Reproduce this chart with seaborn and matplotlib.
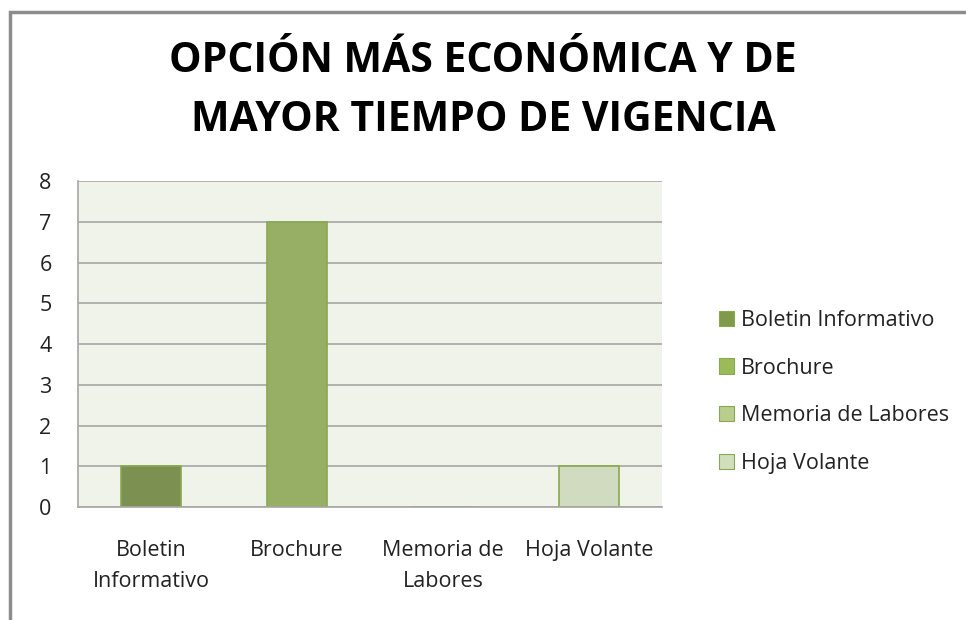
import matplotlib
matplotlib.use("Agg")
import matplotlib.pyplot as plt
import matplotlib.patches as mpatches
import pandas as pd
import seaborn as sns

# data
categories = ["Boletin Informativo", "Brochure", "Memoria de Labores", "Hoja Volante"]
tick_labels = ["Boletin\nInformativo", "Brochure", "Memoria de\nLabores", "Hoja Volante"]
values = [1, 7, 0, 1]
colors = ["#7F9A48", "#9BBB59", "#B9CD8E", "#D1DFBC"]

df = pd.DataFrame({"opcion": categories, "votos": values})

sns.set_style("white")
plt.rcParams["font.family"] = ["Open Sans", "DejaVu Sans"]

fig = plt.figure(figsize=(9.66, 6.2), dpi=100)
ax = fig.add_axes([78 / 966, 1 - 507 / 620, 584 / 966, 326 / 620])

sns.barplot(data=df, x="opcion", y="votos", hue="opcion", palette=colors,
            width=0.41, dodge=False, legend=True, ax=ax,
            edgecolor="#8AA84F", linewidth=1.2)

ax.set_facecolor("#EFF3EA")
ax.set_ylim(0, 8)
ax.set_yticks(range(0, 9))
ax.yaxis.grid(True, color="#A6A6A6", linewidth=1.2)
ax.set_axisbelow(True)
ax.set_xlabel("")
ax.set_ylabel("")
ax.set_xticks(range(len(categories)))
ax.set_xticklabels(tick_labels, fontsize=15.5, color="#222222", linespacing=1.6)
ax.tick_params(axis="y", labelsize=15.5, colors="#222222", length=0, pad=19)
ax.tick_params(axis="x", length=0, pad=24)
for side in ["top", "right"]:
    ax.spines[side].set_visible(False)
for side in ["left", "bottom"]:
    ax.spines[side].set_color("#A6A6A6")
    ax.spines[side].set_linewidth(1.2)

handles = [mpatches.Patch(facecolor=c, edgecolor="#8AA84F", linewidth=0.8) for c in colors]
ax.legend(handles, categories, loc="center left", bbox_to_anchor=(700 / 966, 1 - 392 / 620),
          bbox_transform=fig.transFigure, frameon=False, fontsize=15.5,
          handlelength=0.7, handleheight=0.7, handletextpad=0.3, labelspacing=1.25,
          labelcolor="#222222")

fig.text(0.5, 1 - 62 / 620, "OPCIÓN MÁS ECONÓMICA Y DE", ha="center", va="center",
         fontsize=29.5, fontweight="bold", color="black")
fig.text(0.5, 1 - 120 / 620, "MAYOR TIEMPO DE VIGENCIA", ha="center", va="center",
         fontsize=29.5, fontweight="bold", color="black")

# outer chart frame
fig.patches.append(mpatches.Rectangle((10 / 966, -0.1), 1.2, 1 - 12 / 620 + 0.1,
                                      transform=fig.transFigure, fill=False,
                                      edgecolor="#8C8C8C", linewidth=2.5))

fig.savefig("out.png", dpi=100)
